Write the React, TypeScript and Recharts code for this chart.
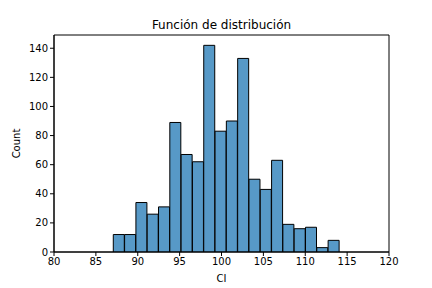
import {
  BarChart,
  Bar,
  XAxis,
  YAxis,
  ReferenceArea,
} from "recharts";

// bin centers (width 1.35, first edge ~87.08)
const binStart = 87.08;
const binWidth = 1.35;
const counts = [12, 12, 34, 26, 31, 89, 67, 62, 142, 83, 90, 133, 50, 43, 63, 19, 16, 17, 3, 8];
const xTicks = [80, 85, 90, 95, 100, 105, 110, 115, 120];
const yTicks = [0, 20, 40, 60, 80, 100, 120, 140];

const data = counts.map((c, i) => ({
  ci: binStart + binWidth * (i + 0.5),
  count: c,
}));

const font = "'DejaVu Sans', sans-serif";

export default function App() {
  return (
    <div style={{ position: "absolute", left: 0, top: 0, width: 432, height: 288, background: "#fff", fontFamily: font }}>
      <div
        style={{
          position: "absolute",
          top: 18,
          left: 54,
          width: 335,
          textAlign: "center",
          fontSize: 12,
          color: "#000",
        }}
      >
        Función de distribución
      </div>
      <BarChart
        width={432}
        height={288}
        data={data}
        barCategoryGap={0}
        barGap={0}
        margin={{ top: 35, right: 43, bottom: 0, left: 0 }}
      >
        <XAxis
          dataKey="ci"
          type="number"
          domain={[80, 120]}
          ticks={xTicks}
          allowDataOverflow
          height={36}
          tickSize={4}
          stroke="#000"
          tick={{ fill: "#000", fontSize: 10, fontFamily: font }}
          label={{ value: "CI", position: "insideBottom", offset: 6, fill: "#000", fontSize: 10, fontFamily: font }}
        />
        <YAxis
          type="number"
          domain={[0, 149.1]}
          ticks={yTicks}
          allowDataOverflow
          width={54}
          tickSize={4}
          stroke="#000"
          tick={{ fill: "#000", fontSize: 10, fontFamily: font }}
          label={{ value: "Count", angle: -90, position: "insideLeft", offset: 16, fill: "#000", fontSize: 10, fontFamily: font, style: { textAnchor: "middle" } }}
        />
        <Bar
          dataKey="count"
          fill="#5799c7"
          stroke="#000"
          strokeWidth={1}
          isAnimationActive={false}
        />
        <ReferenceArea x1={80} x2={120} y1={0} y2={149.1} fill="none" stroke="#000" strokeWidth={1} ifOverflow="visible" />
      </BarChart>
    </div>
  );
}
